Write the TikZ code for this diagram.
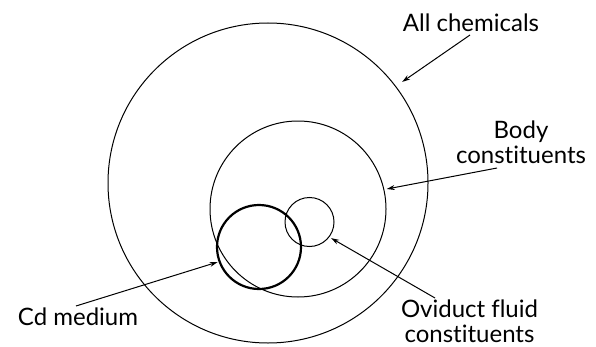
\documentclass[tikz,border=0pt]{standalone}
\usepackage{fontspec}
\setmainfont{Lato}[Ligatures={NoCommon}]
\usetikzlibrary{arrows.meta,calc}
\begin{document}
\begin{tikzpicture}[x=1pt,y=1pt,
  ring/.style={draw=black,circle,inner sep=0pt,line width=1pt},
  thickring/.style={draw=black,circle,inner sep=0pt,line width=2.2pt},
  lbl/.style={font=\fontsize{24}{25}\selectfont,inner sep=0pt,align=center,anchor=base},
  arr/.style={draw=black,line width=1pt,-{Stealth[length=8pt,width=5pt]}}]
\useasboundingbox (0,0) rectangle (596,346);
\node[ring,minimum size=320pt] (outer) at (268,163) {};
\node[ring,minimum size=176pt] (body) at (298,137) {};
\node[ring,minimum size=49pt] (ovi) at (309.5,124) {};
\node[thickring,minimum size=84pt] (cd) at (259,99) {};
\node[lbl] (lA) at (471,314) {All chemicals};
\node[lbl] (lB) at (521,183) {Body\\constituents};
\node[lbl] (lC) at (78,21) {Cd medium};
\node[lbl] (lD) at (469.5,4) {Oviduct fluid\\constituents};
\coordinate (sA) at (470,311);
\coordinate (sB) at (497,178);
\coordinate (sC) at (76,40);
\coordinate (sD) at (435,48);
\draw[arr] (sA) -- ($(outer.center)+(37:168pt)$);
\draw[arr] (sB) -- ($(body.center)+(12.7:91pt)$);
\draw[arr] (sC) -- ($(cd.center)+(200:44pt)$);
\draw[arr] (sD) -- ($(ovi.center)+(-36.7:27pt)$);
\end{tikzpicture}
\end{document}
